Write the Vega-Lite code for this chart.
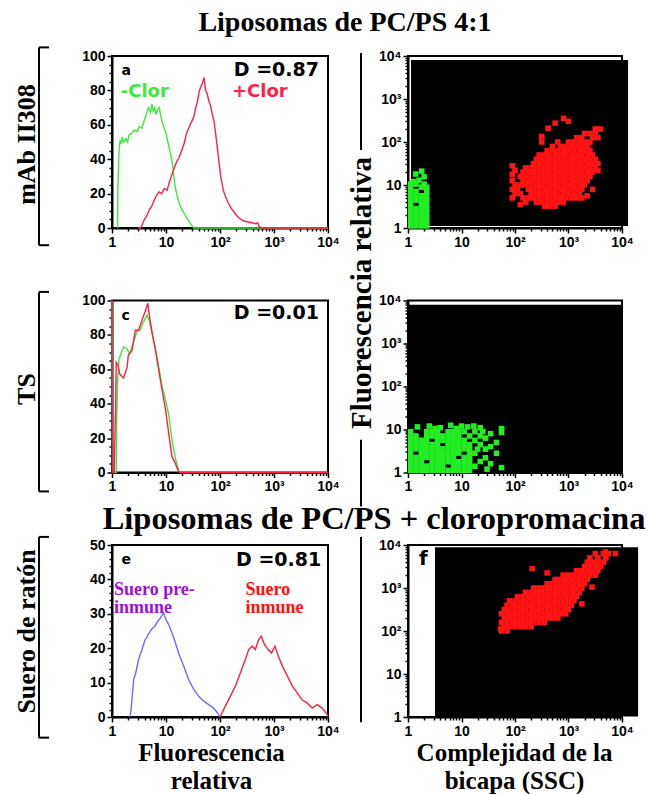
{
  "$schema": "https://vega.github.io/schema/vega-lite/v6.json",
  "background": "white",
  "padding": {"left": 13, "top": 8, "right": 0, "bottom": 0},
  "columns": 4,
  "align": "each",
  "bounds": "flush",
  "spacing": {"row": 72.5, "column": 33},
  "config": {
    "view": {"stroke": "black", "strokeWidth": 2},
    "axis": {"labelFont": "Liberation Sans", "labelFontWeight": "bold", "labelFontSize": 14, "labelColor": "black", "domainColor": "black", "domainWidth": 2, "tickColor": "black", "tickWidth": 1.5, "labelPadding": 2, "grid": false, "labelOverlap": false, "labelFlush": false, "titleFont": "Liberation Serif", "titleFontWeight": "bold", "titleColor": "black"},
    "title": {"font": "Liberation Serif", "fontWeight": "bold", "color": "black"}
  },
  "datasets": {
    "a_neg": [{"x":1.27,"y":0},{"x":1.28,"y":22},{"x":1.35,"y":45},{"x":1.41,"y":51},{"x":1.48,"y":49},{"x":1.55,"y":53},{"x":1.65,"y":50},{"x":1.81,"y":52},{"x":1.95,"y":50},{"x":2.05,"y":54},{"x":2.3,"y":55},{"x":2.6,"y":57},{"x":2.9,"y":56},{"x":3.2,"y":59},{"x":3.6,"y":58},{"x":3.9,"y":62},{"x":4.2,"y":65},{"x":4.5,"y":68},{"x":4.75,"y":70},{"x":5.2,"y":67},{"x":5.5,"y":72},{"x":5.8,"y":68},{"x":6.2,"y":70},{"x":6.5,"y":66},{"x":7.0,"y":69},{"x":7.5,"y":70},{"x":8.0,"y":65},{"x":8.6,"y":61},{"x":10,"y":55},{"x":11.4,"y":47},{"x":12.3,"y":42},{"x":13.2,"y":37.5},{"x":14,"y":30},{"x":14.8,"y":24},{"x":16,"y":19},{"x":17.5,"y":14.4},{"x":19.5,"y":11},{"x":21.6,"y":8.7},{"x":24,"y":6},{"x":26.7,"y":3.8},{"x":30.8,"y":1},{"x":33,"y":0},{"x":10000,"y":0}],
    "a_pos": [{"x":3.0,"y":0},{"x":3.4,"y":0},{"x":3.95,"y":4.8},{"x":4.4,"y":7},{"x":4.9,"y":10.6},{"x":5.5,"y":13},{"x":6.05,"y":16.3},{"x":6.7,"y":19},{"x":7.5,"y":21},{"x":8.3,"y":20},{"x":9.3,"y":23},{"x":10.5,"y":22},{"x":11.4,"y":26},{"x":12.5,"y":30},{"x":14.1,"y":34.6},{"x":15.5,"y":38},{"x":17.5,"y":41},{"x":19.5,"y":45},{"x":21.6,"y":49},{"x":24,"y":55},{"x":26.7,"y":58.6},{"x":30,"y":62},{"x":33,"y":65},{"x":35.5,"y":70},{"x":38,"y":73},{"x":41,"y":79},{"x":43.8,"y":82},{"x":47,"y":84},{"x":50.7,"y":87.5},{"x":54,"y":80},{"x":58,"y":78},{"x":62,"y":74},{"x":67,"y":71},{"x":72,"y":66},{"x":77,"y":62.5},{"x":83,"y":55},{"x":89,"y":47},{"x":96,"y":38},{"x":103,"y":30},{"x":115,"y":22},{"x":127,"y":18},{"x":145,"y":14},{"x":169,"y":10.6},{"x":195,"y":8},{"x":225,"y":5.8},{"x":260,"y":4.5},{"x":298,"y":3.8},{"x":370,"y":3.2},{"x":457,"y":2.5},{"x":500,"y":3},{"x":525,"y":1},{"x":600,"y":0},{"x":10000,"y":0}],
    "c_neg": [{"x":1.0,"y":100},{"x":1.02,"y":0},{"x":1.2,"y":0},{"x":1.22,"y":30},{"x":1.27,"y":52.4},{"x":1.35,"y":66},{"x":1.5,"y":70},{"x":1.64,"y":73},{"x":1.9,"y":72},{"x":2.1,"y":69},{"x":2.52,"y":76},{"x":2.9,"y":82},{"x":3.3,"y":82.7},{"x":3.85,"y":87.6},{"x":4.45,"y":91.6},{"x":4.9,"y":88.6},{"x":5.5,"y":80.8},{"x":6.3,"y":73},{"x":7.3,"y":62},{"x":8.4,"y":50.6},{"x":9.8,"y":42},{"x":11.2,"y":33.7},{"x":12.9,"y":19},{"x":14.9,"y":8.2},{"x":17.1,"y":1.4},{"x":18.4,"y":0},{"x":10000,"y":0}],
    "c_pos": [{"x":1.0,"y":100},{"x":1.02,"y":0},{"x":1.1,"y":0},{"x":1.13,"y":19},{"x":1.17,"y":38.6},{"x":1.2,"y":64},{"x":1.3,"y":62},{"x":1.4,"y":57},{"x":1.64,"y":55},{"x":1.9,"y":61},{"x":2.0,"y":68},{"x":2.35,"y":71},{"x":2.7,"y":82.7},{"x":3.1,"y":82.7},{"x":3.6,"y":88.6},{"x":4.1,"y":93.5},{"x":4.6,"y":98.4},{"x":4.9,"y":91.6},{"x":5.5,"y":81.8},{"x":6.3,"y":72},{"x":7.3,"y":60},{"x":8.4,"y":48.4},{"x":9.8,"y":36.7},{"x":11.2,"y":23},{"x":12.9,"y":9.2},{"x":14.9,"y":5.3},{"x":17.1,"y":0.4},{"x":18.4,"y":0},{"x":10000,"y":0}],
    "e_pre": [{"x":2.15,"y":0},{"x":2.25,"y":2},{"x":2.52,"y":10.9},{"x":2.75,"y":12.8},{"x":3.1,"y":16.7},{"x":3.6,"y":19.6},{"x":4.1,"y":22.5},{"x":4.4,"y":23},{"x":4.65,"y":24},{"x":5.0,"y":24.6},{"x":5.3,"y":25.4},{"x":6.2,"y":26.4},{"x":7.1,"y":27.9},{"x":7.9,"y":28.8},{"x":9.0,"y":30.3},{"x":10,"y":28.3},{"x":11.2,"y":26.9},{"x":12.9,"y":24.5},{"x":14.9,"y":21.6},{"x":17.1,"y":18.6},{"x":21.2,"y":14.8},{"x":26.3,"y":10.9},{"x":32.6,"y":8},{"x":40.2,"y":6},{"x":49.9,"y":4.6},{"x":61.7,"y":3.6},{"x":76,"y":2.6},{"x":88,"y":1.4},{"x":100,"y":0}],
    "e_imm": [{"x":100,"y":0},{"x":125,"y":3.1},{"x":155,"y":6},{"x":192,"y":8.9},{"x":238,"y":12.8},{"x":295,"y":16.7},{"x":340,"y":19.6},{"x":395,"y":20.6},{"x":450,"y":19.6},{"x":520,"y":22.5},{"x":580,"y":23.5},{"x":670,"y":21},{"x":780,"y":19.6},{"x":900,"y":18.6},{"x":1040,"y":20.6},{"x":1200,"y":17.7},{"x":1430,"y":14.8},{"x":1780,"y":11.8},{"x":2200,"y":8.9},{"x":2700,"y":7},{"x":3300,"y":5},{"x":4100,"y":4.1},{"x":5100,"y":2.6},{"x":6300,"y":3.6},{"x":7800,"y":2.6},{"x":9700,"y":0.7},{"x":10000,"y":0}],
    "b_green": [{"x":1.12,"y":1.12},{"x":1.41,"y":1.12},{"x":1.78,"y":1.12},{"x":2.24,"y":1.12},{"x":1.12,"y":1.41},{"x":1.41,"y":1.41},{"x":1.78,"y":1.41},{"x":2.24,"y":1.41},{"x":1.12,"y":1.78},{"x":1.41,"y":1.78},{"x":1.78,"y":1.78},{"x":2.24,"y":1.78},{"x":1.12,"y":2.24},{"x":1.41,"y":2.24},{"x":1.78,"y":2.24},{"x":2.24,"y":2.24},{"x":1.12,"y":2.82},{"x":1.41,"y":2.82},{"x":1.78,"y":2.82},{"x":2.24,"y":2.82},{"x":1.12,"y":3.55},{"x":1.78,"y":3.55},{"x":2.24,"y":3.55},{"x":1.12,"y":4.47},{"x":1.41,"y":4.47},{"x":1.78,"y":4.47},{"x":2.24,"y":4.47},{"x":1.12,"y":5.62},{"x":1.41,"y":5.62},{"x":1.78,"y":5.62},{"x":2.24,"y":5.62},{"x":1.12,"y":7.08},{"x":1.41,"y":7.08},{"x":2.24,"y":7.08},{"x":1.12,"y":8.91},{"x":1.78,"y":8.91},{"x":2.24,"y":8.91},{"x":1.12,"y":10.5},{"x":1.41,"y":10.5},{"x":2.0,"y":10.5},{"x":1.25,"y":12},{"x":1.6,"y":13},{"x":2.0,"y":15.5},{"x":1.4,"y":18},{"x":1.8,"y":21}],
    "b_red": [{"x":355,"y":3.2},{"x":447,"y":3.2},{"x":562,"y":3.2},
      {"x":158,"y":4},{"x":251,"y":4},{"x":316,"y":4},{"x":398,"y":4},{"x":501,"y":4},{"x":631,"y":4},{"x":794,"y":4},
      {"x":89,"y":5},{"x":141,"y":5},{"x":178,"y":5},{"x":224,"y":5},{"x":282,"y":5},{"x":355,"y":5},{"x":447,"y":5},{"x":562,"y":5},{"x":708,"y":5},{"x":891,"y":5},{"x":1122,"y":5},{"x":1413,"y":5},{"x":1778,"y":5},
      {"x":100,"y":6.3},{"x":126,"y":6.3},{"x":200,"y":6.3},{"x":251,"y":6.3},{"x":316,"y":6.3},{"x":398,"y":6.3},{"x":501,"y":6.3},{"x":631,"y":6.3},{"x":794,"y":6.3},{"x":1000,"y":6.3},{"x":1259,"y":6.3},{"x":1585,"y":6.3},
      {"x":89,"y":7.9},{"x":112,"y":7.9},{"x":178,"y":7.9},{"x":224,"y":7.9},{"x":282,"y":7.9},{"x":355,"y":7.9},{"x":447,"y":7.9},{"x":562,"y":7.9},{"x":708,"y":7.9},{"x":891,"y":7.9},{"x":1122,"y":7.9},{"x":1413,"y":7.9},{"x":1778,"y":7.9},
      {"x":100,"y":10},{"x":126,"y":10},{"x":158,"y":10},{"x":200,"y":10},{"x":251,"y":10},{"x":316,"y":10},{"x":398,"y":10},{"x":501,"y":10},{"x":631,"y":10},{"x":794,"y":10},{"x":1000,"y":10},{"x":1259,"y":10},{"x":1585,"y":10},{"x":1995,"y":10},
      {"x":89,"y":12.6},{"x":141,"y":12.6},{"x":178,"y":12.6},{"x":224,"y":12.6},{"x":282,"y":12.6},{"x":355,"y":12.6},{"x":447,"y":12.6},{"x":562,"y":12.6},{"x":708,"y":12.6},{"x":891,"y":12.6},{"x":1122,"y":12.6},{"x":1413,"y":12.6},{"x":1778,"y":12.6},{"x":2239,"y":12.6},
      {"x":126,"y":15.8},{"x":158,"y":15.8},{"x":200,"y":15.8},{"x":251,"y":15.8},{"x":316,"y":15.8},{"x":398,"y":15.8},{"x":501,"y":15.8},{"x":631,"y":15.8},{"x":794,"y":15.8},{"x":1000,"y":15.8},{"x":1259,"y":15.8},{"x":1585,"y":15.8},{"x":1995,"y":15.8},{"x":2512,"y":15.8},
      {"x":141,"y":20},{"x":178,"y":20},{"x":224,"y":20},{"x":282,"y":20},{"x":355,"y":20},{"x":447,"y":20},{"x":562,"y":20},{"x":708,"y":20},{"x":891,"y":20},{"x":1122,"y":20},{"x":1413,"y":20},{"x":1778,"y":20},{"x":2239,"y":20},{"x":2818,"y":20},
      {"x":158,"y":25},{"x":200,"y":25},{"x":251,"y":25},{"x":316,"y":25},{"x":398,"y":25},{"x":501,"y":25},{"x":631,"y":25},{"x":794,"y":25},{"x":1000,"y":25},{"x":1259,"y":25},{"x":1585,"y":25},{"x":1995,"y":25},{"x":2512,"y":25},{"x":3162,"y":25},
      {"x":224,"y":31.6},{"x":282,"y":31.6},{"x":355,"y":31.6},{"x":447,"y":31.6},{"x":562,"y":31.6},{"x":708,"y":31.6},{"x":891,"y":31.6},{"x":1122,"y":31.6},{"x":1413,"y":31.6},{"x":1778,"y":31.6},{"x":2239,"y":31.6},{"x":2818,"y":31.6},{"x":3548,"y":31.6},
      {"x":251,"y":39.8},{"x":316,"y":39.8},{"x":398,"y":39.8},{"x":501,"y":39.8},{"x":631,"y":39.8},{"x":794,"y":39.8},{"x":1000,"y":39.8},{"x":1259,"y":39.8},{"x":1585,"y":39.8},{"x":1995,"y":39.8},{"x":2512,"y":39.8},{"x":3162,"y":39.8},
      {"x":282,"y":50},{"x":355,"y":50},{"x":447,"y":50},{"x":562,"y":50},{"x":708,"y":50},{"x":891,"y":50},{"x":1122,"y":50},{"x":1413,"y":50},{"x":1778,"y":50},{"x":2239,"y":50},{"x":2818,"y":50},
      {"x":398,"y":63},{"x":501,"y":63},{"x":631,"y":63},{"x":794,"y":63},{"x":1000,"y":63},{"x":1259,"y":63},{"x":1585,"y":63},{"x":1995,"y":63},{"x":2512,"y":63},
      {"x":501,"y":79},{"x":708,"y":79},{"x":891,"y":79},{"x":1122,"y":79},{"x":1413,"y":79},{"x":1778,"y":79},{"x":2239,"y":79},
      {"x":316,"y":100},{"x":631,"y":100},{"x":1000,"y":100},{"x":1259,"y":100},{"x":1585,"y":100},{"x":1995,"y":100},{"x":2512,"y":100},
      {"x":1413,"y":126},{"x":1778,"y":126},{"x":2818,"y":126},{"x":3548,"y":126},
      {"x":1995,"y":158},{"x":2512,"y":158},{"x":3162,"y":158},
      {"x":3162,"y":200},{"x":3981,"y":200},
      {"x":813,"y":355},{"x":562,"y":275},{"x":1000,"y":302},{"x":417,"y":209},{"x":316,"y":135},{"x":126,"y":3.5},{"x":89,"y":17.8},{"x":100,"y":22},{"x":2239,"y":5.6},{"x":2818,"y":7.9},{"x":89,"y":28},{"x":3548,"y":22}],
    "d_green": [{"x":1.12,"y":1.12},{"x":1.41,"y":1.12},{"x":1.78,"y":1.12},{"x":2.24,"y":1.12},{"x":2.82,"y":1.12},{"x":3.55,"y":1.12},{"x":4.47,"y":1.12},{"x":5.62,"y":1.12},{"x":7.08,"y":1.12},{"x":8.91,"y":1.12},{"x":11.2,"y":1.12},{"x":14.1,"y":1.12},
      {"x":1.12,"y":1.41},{"x":1.41,"y":1.41},{"x":1.78,"y":1.41},{"x":2.24,"y":1.41},{"x":2.82,"y":1.41},{"x":3.55,"y":1.41},{"x":4.47,"y":1.41},{"x":7.08,"y":1.41},{"x":8.91,"y":1.41},{"x":11.2,"y":1.41},{"x":14.1,"y":1.41},
      {"x":1.12,"y":1.78},{"x":1.41,"y":1.78},{"x":1.78,"y":1.78},{"x":2.82,"y":1.78},{"x":3.55,"y":1.78},{"x":4.47,"y":1.78},{"x":5.62,"y":1.78},{"x":7.08,"y":1.78},{"x":8.91,"y":1.78},{"x":11.2,"y":1.78},{"x":14.1,"y":1.78},
      {"x":1.12,"y":2.24},{"x":1.41,"y":2.24},{"x":1.78,"y":2.24},{"x":2.24,"y":2.24},{"x":2.82,"y":2.24},{"x":3.55,"y":2.24},{"x":4.47,"y":2.24},{"x":5.62,"y":2.24},{"x":7.08,"y":2.24},{"x":11.2,"y":2.24},{"x":14.1,"y":2.24},
      {"x":1.12,"y":2.82},{"x":1.78,"y":2.82},{"x":2.24,"y":2.82},{"x":2.82,"y":2.82},{"x":3.55,"y":2.82},{"x":4.47,"y":2.82},{"x":5.62,"y":2.82},{"x":7.08,"y":2.82},{"x":8.91,"y":2.82},{"x":14.1,"y":2.82},
      {"x":1.12,"y":3.55},{"x":1.41,"y":3.55},{"x":1.78,"y":3.55},{"x":2.24,"y":3.55},{"x":2.82,"y":3.55},{"x":3.55,"y":3.55},{"x":4.47,"y":3.55},{"x":5.62,"y":3.55},{"x":7.08,"y":3.55},{"x":8.91,"y":3.55},{"x":11.2,"y":3.55},{"x":14.1,"y":3.55},
      {"x":1.12,"y":4.47},{"x":1.41,"y":4.47},{"x":1.78,"y":4.47},{"x":2.24,"y":4.47},{"x":2.82,"y":4.47},{"x":3.55,"y":4.47},{"x":5.62,"y":4.47},{"x":7.08,"y":4.47},{"x":8.91,"y":4.47},{"x":11.2,"y":4.47},{"x":14.1,"y":4.47},
      {"x":1.12,"y":5.62},{"x":1.41,"y":5.62},{"x":1.78,"y":5.62},{"x":2.24,"y":5.62},{"x":3.55,"y":5.62},{"x":4.47,"y":5.62},{"x":5.62,"y":5.62},{"x":7.08,"y":5.62},{"x":8.91,"y":5.62},{"x":11.2,"y":5.62},
      {"x":1.12,"y":7.08},{"x":1.41,"y":7.08},{"x":2.24,"y":7.08},{"x":2.82,"y":7.08},{"x":3.55,"y":7.08},{"x":4.47,"y":7.08},{"x":5.62,"y":7.08},{"x":7.08,"y":7.08},{"x":8.91,"y":7.08},{"x":14.1,"y":7.08},
      {"x":1.12,"y":8.91},{"x":2.24,"y":8.91},{"x":2.82,"y":8.91},{"x":3.55,"y":8.91},{"x":5.62,"y":8.91},{"x":7.08,"y":8.91},{"x":8.91,"y":8.91},{"x":11.2,"y":8.91},
      {"x":1.5,"y":11.5},{"x":2.5,"y":12},{"x":4,"y":11},{"x":6.3,"y":12.5},{"x":10,"y":12},{"x":13,"y":11.5},{"x":3.2,"y":10.5},{"x":8,"y":10.5},{"x":17,"y":12},
      {"x":17.8,"y":1.4},{"x":17.8,"y":2.8},{"x":17.8,"y":5.6},{"x":17.8,"y":8.9},{"x":22.4,"y":1.8},{"x":22.4,"y":4.5},{"x":22.4,"y":7.1},{"x":22.4,"y":11},{"x":28,"y":2.2},{"x":28,"y":3.5},{"x":28,"y":6.3},{"x":35,"y":1.6},{"x":35,"y":4},{"x":35,"y":8},{"x":45,"y":2.8},{"x":45,"y":5},{"x":56,"y":1.3},{"x":56,"y":8.5},{"x":56,"y":10.5},{"x":20,"y":3.5},{"x":25,"y":9},{"x":30,"y":1.2}],
    "f_red": [{"x":56,"y":100},{"x":71,"y":100},
      {"x":63,"y":126},{"x":79,"y":126},{"x":100,"y":126},{"x":126,"y":126},{"x":158,"y":126},{"x":200,"y":126},
      {"x":56,"y":158},{"x":71,"y":158},{"x":89,"y":158},{"x":112,"y":158},{"x":141,"y":158},{"x":178,"y":158},{"x":224,"y":158},{"x":282,"y":158},{"x":355,"y":158},
      {"x":63,"y":200},{"x":79,"y":200},{"x":100,"y":200},{"x":126,"y":200},{"x":158,"y":200},{"x":200,"y":200},{"x":251,"y":200},{"x":316,"y":200},{"x":398,"y":200},{"x":501,"y":200},{"x":631,"y":200},
      {"x":56,"y":251},{"x":71,"y":251},{"x":89,"y":251},{"x":112,"y":251},{"x":141,"y":251},{"x":178,"y":251},{"x":224,"y":251},{"x":282,"y":251},{"x":355,"y":251},{"x":447,"y":251},{"x":562,"y":251},{"x":708,"y":251},{"x":891,"y":251},
      {"x":63,"y":316},{"x":79,"y":316},{"x":100,"y":316},{"x":126,"y":316},{"x":158,"y":316},{"x":200,"y":316},{"x":251,"y":316},{"x":316,"y":316},{"x":398,"y":316},{"x":501,"y":316},{"x":631,"y":316},{"x":794,"y":316},{"x":1000,"y":316},
      {"x":71,"y":398},{"x":89,"y":398},{"x":112,"y":398},{"x":141,"y":398},{"x":178,"y":398},{"x":224,"y":398},{"x":282,"y":398},{"x":355,"y":398},{"x":447,"y":398},{"x":562,"y":398},{"x":708,"y":398},{"x":891,"y":398},{"x":1122,"y":398},
      {"x":79,"y":501},{"x":100,"y":501},{"x":126,"y":501},{"x":158,"y":501},{"x":200,"y":501},{"x":251,"y":501},{"x":316,"y":501},{"x":398,"y":501},{"x":501,"y":501},{"x":631,"y":501},{"x":794,"y":501},{"x":1000,"y":501},{"x":1259,"y":501},
      {"x":112,"y":631},{"x":141,"y":631},{"x":178,"y":631},{"x":224,"y":631},{"x":282,"y":631},{"x":355,"y":631},{"x":447,"y":631},{"x":562,"y":631},{"x":708,"y":631},{"x":891,"y":631},{"x":1122,"y":631},{"x":1413,"y":631},
      {"x":158,"y":794},{"x":200,"y":794},{"x":251,"y":794},{"x":316,"y":794},{"x":398,"y":794},{"x":501,"y":794},{"x":631,"y":794},{"x":794,"y":794},{"x":1000,"y":794},{"x":1259,"y":794},{"x":1585,"y":794},
      {"x":224,"y":1000},{"x":282,"y":1000},{"x":355,"y":1000},{"x":447,"y":1000},{"x":562,"y":1000},{"x":708,"y":1000},{"x":891,"y":1000},{"x":1122,"y":1000},{"x":1413,"y":1000},{"x":1778,"y":1000},
      {"x":398,"y":1259},{"x":501,"y":1259},{"x":631,"y":1259},{"x":794,"y":1259},{"x":1000,"y":1259},{"x":1259,"y":1259},{"x":1585,"y":1259},{"x":1995,"y":1259},
      {"x":562,"y":1585},{"x":708,"y":1585},{"x":891,"y":1585},{"x":1122,"y":1585},{"x":1413,"y":1585},{"x":1778,"y":1585},{"x":2239,"y":1585},
      {"x":794,"y":1995},{"x":1000,"y":1995},{"x":1259,"y":1995},{"x":1585,"y":1995},{"x":1995,"y":1995},{"x":2512,"y":1995},{"x":3162,"y":1995},
      {"x":1413,"y":2512},{"x":1778,"y":2512},{"x":2239,"y":2512},{"x":2818,"y":2512},{"x":3548,"y":2512},
      {"x":1995,"y":3162},{"x":2512,"y":3162},{"x":3162,"y":3162},{"x":3981,"y":3162},
      {"x":2239,"y":3981},{"x":2818,"y":3981},{"x":3548,"y":3981},{"x":4467,"y":3981},
      {"x":2512,"y":5012},{"x":3548,"y":5012},{"x":5012,"y":5012},
      {"x":3162,"y":6310},{"x":4467,"y":6310},{"x":5623,"y":6310},
      {"x":209,"y":2818},{"x":398,"y":2239},{"x":7586,"y":6310},{"x":4900,"y":6900},{"x":54,"y":112},{"x":2754,"y":1047},{"x":1778,"y":427}]
  },
  "concat": [
    {
      "width": 40, "height": 172, "view": {"stroke": null},
      "data": {"values": [{"x":0,"x2":0,"y":-0.1,"y2":1.05},{"x":0,"x2":0.25,"y":1.05,"y2":1.05},{"x":0,"x2":0.25,"y":-0.1,"y2":-0.1}]},
      "mark": {"type": "rule", "color": "black", "strokeWidth": 2},
      "encoding": {
        "x": {"field": "x", "type": "quantitative", "scale": {"domain": [0, 1]}, "axis": null},
        "x2": {"field": "x2"},
        "y": {"field": "y", "type": "quantitative", "scale": {"domain": [0, 1]}, "axis": {"title": "mAb II308", "labels": false, "ticks": false, "domain": false, "titleFontSize": 26, "titleAngle": -90, "titleX": -13, "titleY": 88, "titleAlign": "center", "titleBaseline": "middle"}},
        "y2": {"field": "y2"}
      }
    },
    {
      "width": 216, "height": 172,
      "title": {"text": "Liposomas de PC/PS 4:1", "fontSize": 28, "anchor": "middle", "dx": 125, "offset": 12},
      "encoding": {
        "x": {"field": "x", "type": "quantitative", "scale": {"type": "log", "domain": [1, 10000], "nice": false}, "axis": {"title": null, "values": [1,2,3,4,5,6,7,8,9,10,20,30,40,50,60,70,80,90,100,200,300,400,500,600,700,800,900,1000,2000,3000,4000,5000,6000,7000,8000,9000,10000], "labelExpr": "datum.value == 1 ? '1' : datum.value == 10 ? '10' : datum.value == 100 ? '10²' : datum.value == 1000 ? '10³' : datum.value == 10000 ? '10⁴' : ''", "tickSize": {"condition": {"test": "indexof([1,10,100,1000,10000], datum.value) >= 0", "value": 5}, "value": 3}}},
        "y": {"field": "y", "type": "quantitative", "scale": {"domain": [0, 100], "nice": false}, "axis": {"title": null, "values": [0,5,10,15,20,25,30,35,40,45,50,55,60,65,70,75,80,85,90,95,100], "labelExpr": "datum.value % 20 == 0 ? datum.label : ''", "tickSize": {"condition": {"test": "datum.value % 20 == 0", "value": 5}, "value": 3}}}
      },
      "layer": [
        {"data": {"name": "a_neg"}, "mark": {"type": "line", "color": "#3ee83e", "strokeWidth": 1.4}},
        {"data": {"name": "a_pos"}, "mark": {"type": "line", "color": "#ff1f4b", "strokeWidth": 1.4}},
        {"data": {"values": [{"x": 1.45, "y": 79, "t": "-Clor"}]}, "mark": {"type": "text", "align": "left", "baseline": "middle", "font": "DejaVu Sans", "fontWeight": "bold", "fontSize": 18, "color": "#3ee83e"}, "encoding": {"text": {"field": "t"}}},
        {"data": {"values": [{"x": 167, "y": 79, "t": "+Clor"}]}, "mark": {"type": "text", "align": "left", "baseline": "middle", "font": "DejaVu Sans", "fontWeight": "bold", "fontSize": 18, "color": "#ff1f4b"}, "encoding": {"text": {"field": "t"}}},
        {"data": {"values": [{"x": 1.5, "y": 91.5, "t": "a"}]}, "mark": {"type": "text", "align": "left", "baseline": "middle", "font": "DejaVu Sans", "fontWeight": "bold", "fontSize": 14, "color": "black"}, "encoding": {"text": {"field": "t"}}},
        {"data": {"values": [{"x": 6800, "y": 92, "t": "D =0.87"}]}, "mark": {"type": "text", "align": "right", "baseline": "middle", "font": "DejaVu Sans", "fontWeight": "bold", "fontSize": 19, "color": "black"}, "encoding": {"text": {"field": "t"}}}
      ]
    },
    {
      "width": 14, "height": 172, "view": {"stroke": null},
      "data": {"values": [{"x": 0, "y": 0.453, "y2": 1.017}]},
      "mark": {"type": "rule", "color": "black", "strokeWidth": 2},
      "encoding": {
        "x": {"field": "x", "type": "quantitative", "scale": {"domain": [0, 1]}, "axis": null},
        "y": {"field": "y", "type": "quantitative", "scale": {"domain": [0, 1]}, "axis": null},
        "y2": {"field": "y2"}
      }
    },
    {
      "width": 214, "height": 172,
      "encoding": {
        "x": {"field": "x", "type": "quantitative", "scale": {"type": "log", "domain": [1, 10000], "nice": false}, "axis": {"title": null, "values": [1,2,3,4,5,6,7,8,9,10,20,30,40,50,60,70,80,90,100,200,300,400,500,600,700,800,900,1000,2000,3000,4000,5000,6000,7000,8000,9000,10000], "labelExpr": "datum.value == 1 ? '1' : datum.value == 10 ? '10' : datum.value == 100 ? '10²' : datum.value == 1000 ? '10³' : datum.value == 10000 ? '10⁴' : ''", "tickSize": {"condition": {"test": "indexof([1,10,100,1000,10000], datum.value) >= 0", "value": 5}, "value": 3}}},
        "y": {"field": "y", "type": "quantitative", "scale": {"type": "log", "domain": [1, 10000], "nice": false}, "axis": {"title": null, "values": [1,2,3,4,5,6,7,8,9,10,20,30,40,50,60,70,80,90,100,200,300,400,500,600,700,800,900,1000,2000,3000,4000,5000,6000,7000,8000,9000,10000], "labelExpr": "datum.value == 1 ? '1' : datum.value == 10 ? '10' : datum.value == 100 ? '10²' : datum.value == 1000 ? '10³' : datum.value == 10000 ? '10⁴' : ''", "tickSize": {"condition": {"test": "indexof([1,10,100,1000,10000], datum.value) >= 0", "value": 5}, "value": 3}}}
      },
      "layer": [
        {"data": {"values": [{"x": 1.14, "x2": 13000, "y": 1.11, "y2": 8100}]}, "mark": {"type": "rect", "color": "black"}, "encoding": {"x2": {"field": "x2"}, "y2": {"field": "y2"}}},
        {"data": {"name": "b_green"}, "mark": {"type": "square", "color": "#22ee22", "size": 31, "opacity": 1}},
        {"data": {"name": "b_red"}, "mark": {"type": "square", "color": "#ff1414", "size": 31, "opacity": 1}}
      ]
    },
    {
      "width": 40, "height": 172, "view": {"stroke": null},
      "data": {"values": [{"x":0,"x2":0,"y":-0.11,"y2":1.05},{"x":0,"x2":0.25,"y":1.05,"y2":1.05},{"x":0,"x2":0.25,"y":-0.11,"y2":-0.11}]},
      "mark": {"type": "rule", "color": "black", "strokeWidth": 2},
      "encoding": {
        "x": {"field": "x", "type": "quantitative", "scale": {"domain": [0, 1]}, "axis": null},
        "x2": {"field": "x2"},
        "y": {"field": "y", "type": "quantitative", "scale": {"domain": [0, 1]}, "axis": {"title": "TS", "labels": false, "ticks": false, "domain": false, "titleFontSize": 26, "titleAngle": -90, "titleX": -13, "titleY": 88, "titleAlign": "center", "titleBaseline": "middle"}},
        "y2": {"field": "y2"}
      }
    },
    {
      "width": 216, "height": 172,
      "encoding": {
        "x": {"field": "x", "type": "quantitative", "scale": {"type": "log", "domain": [1, 10000], "nice": false}, "axis": {"title": null, "values": [1,2,3,4,5,6,7,8,9,10,20,30,40,50,60,70,80,90,100,200,300,400,500,600,700,800,900,1000,2000,3000,4000,5000,6000,7000,8000,9000,10000], "labelExpr": "datum.value == 1 ? '1' : datum.value == 10 ? '10' : datum.value == 100 ? '10²' : datum.value == 1000 ? '10³' : datum.value == 10000 ? '10⁴' : ''", "tickSize": {"condition": {"test": "indexof([1,10,100,1000,10000], datum.value) >= 0", "value": 5}, "value": 3}}},
        "y": {"field": "y", "type": "quantitative", "scale": {"domain": [0, 100], "nice": false}, "axis": {"title": null, "values": [0,5,10,15,20,25,30,35,40,45,50,55,60,65,70,75,80,85,90,95,100], "labelExpr": "datum.value % 20 == 0 ? datum.label : ''", "tickSize": {"condition": {"test": "datum.value % 20 == 0", "value": 5}, "value": 3}}}
      },
      "layer": [
        {"data": {"name": "c_neg"}, "mark": {"type": "line", "color": "#3ee83e", "strokeWidth": 1.4}},
        {"data": {"name": "c_pos"}, "mark": {"type": "line", "color": "#ff1f4b", "strokeWidth": 1.4}},
        {"data": {"values": [{"x": 1.5, "y": 91, "t": "c"}]}, "mark": {"type": "text", "align": "left", "baseline": "middle", "font": "DejaVu Sans", "fontWeight": "bold", "fontSize": 14, "color": "black"}, "encoding": {"text": {"field": "t"}}},
        {"data": {"values": [{"x": 6800, "y": 92.5, "t": "D =0.01"}]}, "mark": {"type": "text", "align": "right", "baseline": "middle", "font": "DejaVu Sans", "fontWeight": "bold", "fontSize": 19, "color": "black"}, "encoding": {"text": {"field": "t"}}}
      ]
    },
    {
      "width": 14, "height": 172, "view": {"stroke": null},
      "data": {"values": [{"x": 0, "y": -0.198, "y2": 0.19}]},
      "mark": {"type": "rule", "color": "black", "strokeWidth": 2},
      "encoding": {
        "x": {"field": "x", "type": "quantitative", "scale": {"domain": [0, 1]}, "axis": null},
        "y": {"field": "y", "type": "quantitative", "scale": {"domain": [0, 1]}, "axis": {"title": "Fluorescencia relativa", "labels": false, "ticks": false, "domain": false, "titleFontSize": 29, "titleAngle": -90, "titleX": 0, "titleY": -8, "titleAlign": "center", "titleBaseline": "middle"}},
        "y2": {"field": "y2"}
      }
    },
    {
      "width": 214, "height": 172,
      "encoding": {
        "x": {"field": "x", "type": "quantitative", "scale": {"type": "log", "domain": [1, 10000], "nice": false}, "axis": {"title": null, "values": [1,2,3,4,5,6,7,8,9,10,20,30,40,50,60,70,80,90,100,200,300,400,500,600,700,800,900,1000,2000,3000,4000,5000,6000,7000,8000,9000,10000], "labelExpr": "datum.value == 1 ? '1' : datum.value == 10 ? '10' : datum.value == 100 ? '10²' : datum.value == 1000 ? '10³' : datum.value == 10000 ? '10⁴' : ''", "tickSize": {"condition": {"test": "indexof([1,10,100,1000,10000], datum.value) >= 0", "value": 5}, "value": 3}}},
        "y": {"field": "y", "type": "quantitative", "scale": {"type": "log", "domain": [1, 10000], "nice": false}, "axis": {"title": null, "values": [1,2,3,4,5,6,7,8,9,10,20,30,40,50,60,70,80,90,100,200,300,400,500,600,700,800,900,1000,2000,3000,4000,5000,6000,7000,8000,9000,10000], "labelExpr": "datum.value == 1 ? '1' : datum.value == 10 ? '10' : datum.value == 100 ? '10²' : datum.value == 1000 ? '10³' : datum.value == 10000 ? '10⁴' : ''", "tickSize": {"condition": {"test": "indexof([1,10,100,1000,10000], datum.value) >= 0", "value": 5}, "value": 3}}}
      },
      "layer": [
        {"data": {"values": [{"x": 1.01, "x2": 10000, "y": 1.01, "y2": 8000}]}, "mark": {"type": "rect", "color": "black"}, "encoding": {"x2": {"field": "x2"}, "y2": {"field": "y2"}}},
        {"data": {"name": "d_green"}, "mark": {"type": "square", "color": "#22ee22", "size": 31, "opacity": 1}}
      ]
    },
    {
      "width": 40, "height": 172, "view": {"stroke": null},
      "data": {"values": [{"x":0,"x2":0,"y":-0.12,"y2":1.047},{"x":0,"x2":0.25,"y":1.047,"y2":1.047},{"x":0,"x2":0.25,"y":-0.12,"y2":-0.12}]},
      "mark": {"type": "rule", "color": "black", "strokeWidth": 2},
      "encoding": {
        "x": {"field": "x", "type": "quantitative", "scale": {"domain": [0, 1]}, "axis": null},
        "x2": {"field": "x2"},
        "y": {"field": "y", "type": "quantitative", "scale": {"domain": [0, 1]}, "axis": {"title": "Suero de ratón", "labels": false, "ticks": false, "domain": false, "titleFontSize": 26, "titleAngle": -90, "titleX": -13, "titleY": 86, "titleAlign": "center", "titleBaseline": "middle"}},
        "y2": {"field": "y2"}
      }
    },
    {
      "width": 216, "height": 172,
      "title": {"text": "Liposomas de PC/PS + cloropromacina", "fontSize": 32.5, "anchor": "middle", "dx": 154, "offset": 3},
      "encoding": {
        "x": {"field": "x", "type": "quantitative", "scale": {"type": "log", "domain": [1, 10000], "nice": false}, "axis": {"title": ["Fluorescencia", "relativa"], "titleFontSize": 25, "titleLineHeight": 28, "titleX": 99, "titleY": 43, "titleAlign": "center", "titleBaseline": "alphabetic", "values": [1,2,3,4,5,6,7,8,9,10,20,30,40,50,60,70,80,90,100,200,300,400,500,600,700,800,900,1000,2000,3000,4000,5000,6000,7000,8000,9000,10000], "labelExpr": "datum.value == 1 ? '1' : datum.value == 10 ? '10' : datum.value == 100 ? '10²' : datum.value == 1000 ? '10³' : datum.value == 10000 ? '10⁴' : ''", "tickSize": {"condition": {"test": "indexof([1,10,100,1000,10000], datum.value) >= 0", "value": 5}, "value": 3}}},
        "y": {"field": "y", "type": "quantitative", "scale": {"domain": [0, 50], "nice": false}, "axis": {"title": null, "values": [0,2,4,6,8,10,12,14,16,18,20,22,24,26,28,30,32,34,36,38,40,42,44,46,48,50], "labelExpr": "datum.value % 10 == 0 ? datum.label : ''", "tickSize": {"condition": {"test": "datum.value % 10 == 0", "value": 5}, "value": 3}}}
      },
      "layer": [
        {"data": {"name": "e_pre"}, "mark": {"type": "line", "color": "#6b6bff", "strokeWidth": 1.4}},
        {"data": {"name": "e_imm"}, "mark": {"type": "line", "color": "#ff2040", "strokeWidth": 1.4}},
        {"data": {"values": [{"x": 1.09, "y": 37, "t": "Suero pre-\ninmune"}]}, "mark": {"type": "text", "align": "left", "baseline": "middle", "font": "Liberation Serif", "fontWeight": "bold", "fontSize": 18, "lineBreak": "\n", "lineHeight": 18.5, "color": "#9a10d8"}, "encoding": {"text": {"field": "t"}}},
        {"data": {"values": [{"x": 297, "y": 37, "t": "Suero\ninmune"}]}, "mark": {"type": "text", "align": "left", "baseline": "middle", "font": "Liberation Serif", "fontWeight": "bold", "fontSize": 18, "lineBreak": "\n", "lineHeight": 18.5, "color": "#ff1010"}, "encoding": {"text": {"field": "t"}}},
        {"data": {"values": [{"x": 1.5, "y": 45.6, "t": "e"}]}, "mark": {"type": "text", "align": "left", "baseline": "middle", "font": "DejaVu Sans", "fontWeight": "bold", "fontSize": 14, "color": "black"}, "encoding": {"text": {"field": "t"}}},
        {"data": {"values": [{"x": 7500, "y": 45.7, "t": "D =0.81"}]}, "mark": {"type": "text", "align": "right", "baseline": "middle", "font": "DejaVu Sans", "fontWeight": "bold", "fontSize": 19, "color": "black"}, "encoding": {"text": {"field": "t"}}}
      ]
    },
    {
      "width": 14, "height": 172, "view": {"stroke": null},
      "data": {"values": [{"x": 0, "y": -0.03, "y2": 1.047}]},
      "mark": {"type": "rule", "color": "black", "strokeWidth": 2},
      "encoding": {
        "x": {"field": "x", "type": "quantitative", "scale": {"domain": [0, 1]}, "axis": null},
        "y": {"field": "y", "type": "quantitative", "scale": {"domain": [0, 1]}, "axis": null},
        "y2": {"field": "y2"}
      }
    },
    {
      "width": 214, "height": 172,
      "encoding": {
        "x": {"field": "x", "type": "quantitative", "scale": {"type": "log", "domain": [1, 10000], "nice": false}, "axis": {"title": ["Complejidad de la", "bicapa (SSC)"], "titleFontSize": 25, "titleLineHeight": 28, "titleX": 106, "titleY": 43, "titleAlign": "center", "titleBaseline": "alphabetic", "values": [1,2,3,4,5,6,7,8,9,10,20,30,40,50,60,70,80,90,100,200,300,400,500,600,700,800,900,1000,2000,3000,4000,5000,6000,7000,8000,9000,10000], "labelExpr": "datum.value == 1 ? '1' : datum.value == 10 ? '10' : datum.value == 100 ? '10²' : datum.value == 1000 ? '10³' : datum.value == 10000 ? '10⁴' : ''", "tickSize": {"condition": {"test": "indexof([1,10,100,1000,10000], datum.value) >= 0", "value": 5}, "value": 3}}},
        "y": {"field": "y", "type": "quantitative", "scale": {"type": "log", "domain": [1, 10000], "nice": false}, "axis": {"title": null, "values": [1,2,3,4,5,6,7,8,9,10,20,30,40,50,60,70,80,90,100,200,300,400,500,600,700,800,900,1000,2000,3000,4000,5000,6000,7000,8000,9000,10000], "labelExpr": "datum.value == 1 ? '1' : datum.value == 10 ? '10' : datum.value == 100 ? '10²' : datum.value == 1000 ? '10³' : datum.value == 10000 ? '10⁴' : ''", "tickSize": {"condition": {"test": "indexof([1,10,100,1000,10000], datum.value) >= 0", "value": 5}, "value": 3}}}
      },
      "layer": [
        {"data": {"values": [{"x": 3.2, "x2": 20000, "y": 1.03, "y2": 8900}]}, "mark": {"type": "rect", "color": "black"}, "encoding": {"x2": {"field": "x2"}, "y2": {"field": "y2"}}},
        {"data": {"name": "f_red"}, "mark": {"type": "square", "color": "#ff1414", "size": 31, "opacity": 1}},
        {"data": {"values": [{"x": 1.6, "y": 4700, "t": "f"}]}, "mark": {"type": "text", "align": "left", "baseline": "middle", "font": "DejaVu Sans", "fontWeight": "bold", "fontSize": 20, "color": "black"}, "encoding": {"text": {"field": "t"}}}
      ]
    }
  ]
}
